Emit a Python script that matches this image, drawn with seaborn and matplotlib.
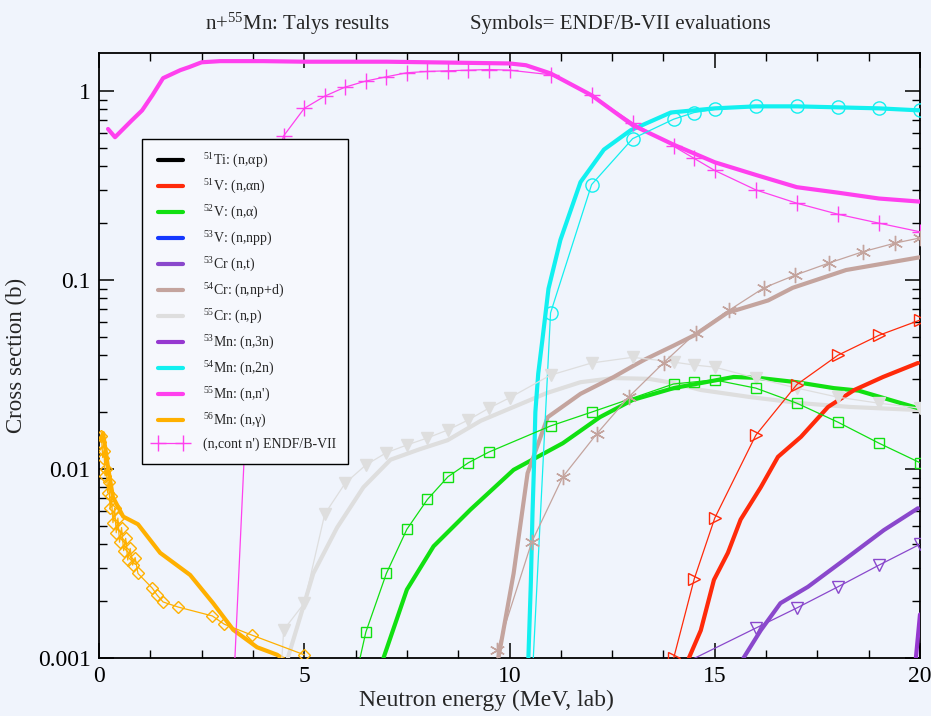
import numpy as np
import pandas as pd
import matplotlib
matplotlib.use("Agg")
import matplotlib.pyplot as plt
from matplotlib.lines import Line2D
from matplotlib.ticker import MultipleLocator, LogLocator, FixedLocator, FixedFormatter, NullFormatter
import seaborn as sns

# ---- TALYS results (thick curves) ----
mn55_nn_x = [0.22, 0.39, 0.8, 1.05, 1.3, 1.56, 1.98, 2.2, 2.5, 2.95, 4, 5, 6, 7, 8, 9, 10, 10.4,
             11, 12, 13, 14, 15, 16, 17, 18, 19, 20]
mn55_nn_y = [0.63, 0.57, 0.70, 0.79, 0.95, 1.17, 1.29, 1.34, 1.42, 1.44, 1.44, 1.43, 1.43, 1.43,
             1.42, 1.41, 1.40, 1.37, 1.24, 0.95, 0.66, 0.52, 0.42, 0.36, 0.31, 0.29, 0.27, 0.26]

mn54_2n_x = [10.46, 10.52, 10.56, 10.6, 10.63, 10.7, 10.8, 10.95, 11.24, 11.73, 12.3, 12.95,
             13.93, 15, 16, 17, 18, 19, 20]
mn54_2n_y = [0.001, 0.0025, 0.0058, 0.011, 0.02, 0.032, 0.048, 0.09, 0.163, 0.33, 0.49, 0.62,
             0.77, 0.81, 0.83, 0.83, 0.82, 0.81, 0.79]

cr55_np_x = [4.6, 5.22, 5.8, 6.44, 7.1, 7.8, 8.49, 9.3, 10.1, 10.9, 11.73, 12.54, 13.4, 14.0,
             14.66, 15.88, 17.1, 18.3, 20]
cr55_np_y = [0.001, 0.0028, 0.0049, 0.008, 0.0112, 0.0127, 0.0142, 0.018, 0.0213, 0.0252, 0.0288,
             0.0303, 0.030, 0.0285, 0.0262, 0.024, 0.0223, 0.0213, 0.0205]

v52_na_x = [6.93, 7.5, 8.15, 9.05, 10.1, 11.3, 12.2, 13.0, 14.0, 15.07, 15.46, 16.1, 17.0, 17.9,
            18.5, 19.1, 19.95]
v52_na_y = [0.001, 0.0023, 0.0039, 0.0061, 0.0099, 0.0137, 0.0188, 0.0232, 0.0268, 0.0296,
            0.0307, 0.0303, 0.0288, 0.0268, 0.026, 0.0238, 0.021]

cr54_npd_x = [9.73, 10.1, 10.44, 10.93, 11.73, 12.54, 13.0, 13.3, 14.0, 14.5, 15.3, 16.3, 16.9,
              18.2, 20]
cr54_npd_y = [0.001, 0.0028, 0.0095, 0.0188, 0.025, 0.0307, 0.035, 0.038, 0.045, 0.051, 0.067,
              0.078, 0.091, 0.113, 0.132]

v51_nan_x = [14.37, 14.66, 14.98, 15.32, 15.63, 16.12, 16.54, 17.1, 17.76, 18.4, 19.1, 19.95]
v51_nan_y = [0.001, 0.0014, 0.00259, 0.0036, 0.0054, 0.008, 0.0116, 0.0148, 0.0213, 0.0262,
             0.0307, 0.0364]

cr53_nt_x = [15.7, 16.12, 16.6, 17.27, 18.15, 19.12, 19.95]
cr53_nt_y = [0.001, 0.0014, 0.00195, 0.00238, 0.0033, 0.00475, 0.0062]

mn53_3n_x = [19.9, 20.0]
mn53_3n_y = [0.001, 0.0017]

mn56_ng_x = [0.05, 0.1, 0.22, 0.34, 0.59, 0.95, 1.49, 2.22, 2.78, 3.27, 3.85, 4.34, 4.6]
mn56_ng_y = [0.0145, 0.0155, 0.0102, 0.0071, 0.0056, 0.0051, 0.0036, 0.00275, 0.00195, 0.00141,
             0.00114, 0.00104, 0.00095]

# ---- ENDF/B-VII evaluations (thin lines with symbols) ----
endf_cont_x = [3.2, 3.8, 4.5, 5.0, 5.5, 6.0, 6.5, 7.0, 7.5, 8.0, 8.5, 9.0, 9.5, 10.0, 11.0, 12.0,
               13.0, 14.0, 14.5, 15.0, 16.0, 17.0, 18.0, 19.0, 20.0]
endf_cont_y = [0.0003, 0.2, 0.58, 0.81, 0.94, 1.05, 1.13, 1.19, 1.25, 1.27, 1.28, 1.29, 1.30,
               1.29, 1.22, 0.95, 0.68, 0.51, 0.44, 0.38, 0.30, 0.255, 0.223, 0.20, 0.18]

endf_2n_x = [10.5, 11, 12, 13, 14, 14.5, 15, 16, 17, 18, 19, 20]
endf_2n_y = [0.00045, 0.067, 0.32, 0.56, 0.71, 0.77, 0.80, 0.83, 0.83, 0.82, 0.81, 0.79]

endf_np_x = [4.3, 4.5, 5.0, 5.5, 6.0, 6.5, 7.0, 7.5, 8.0, 8.5, 9.0, 9.5, 10.0, 11.0, 12.0, 13.0,
             14.0, 14.5, 15.0, 16.0, 17.0, 18.0, 19.0, 20.0]
endf_np_y = [0.0003, 0.00141, 0.00195, 0.00578, 0.00843, 0.0105, 0.0122, 0.0134, 0.0146, 0.0161,
             0.0182, 0.0210, 0.0238, 0.0314, 0.0364, 0.039, 0.0368, 0.0355, 0.0346, 0.0303,
             0.0268, 0.0240, 0.0223, 0.0210]

endf_na_x = [6.2, 6.5, 7.0, 7.5, 8.0, 8.5, 9.0, 9.5, 11.0, 12.0, 14.0, 14.5, 15.0, 16.0, 17.0,
             18.0, 19.0, 20.0]
endf_na_y = [0.0007, 0.00137, 0.0028, 0.0048, 0.0069, 0.0091, 0.0108, 0.0123, 0.0169, 0.020,
             0.0282, 0.0289, 0.0296, 0.0268, 0.0223, 0.0177, 0.0137, 0.0108]

endf_npd_x = [9.7, 10.54, 11.3, 12.12, 12.9, 13.76, 14.54, 15.34, 16.2, 16.95, 17.78, 18.6,
              19.4, 20.0]
endf_npd_y = [0.0011, 0.0041, 0.0091, 0.0153, 0.024, 0.0366, 0.0525, 0.069, 0.091, 0.106, 0.123,
              0.141, 0.157, 0.167]

endf_nan_x = [14.0, 14.5, 15.0, 16.0, 17.0, 18.0, 19.0, 20.0]
endf_nan_y = [0.001, 0.00262, 0.0055, 0.0151, 0.028, 0.040, 0.051, 0.0614]

endf_nt_x = [14.0, 16.0, 17.0, 18.0, 19.0, 20.0]
endf_nt_y = [0.00088, 0.00144, 0.00184, 0.00238, 0.0031, 0.0040]

endf_ng_x = [0.03, 0.06, 0.09, 0.12, 0.15, 0.18, 0.21, 0.24, 0.27, 0.30, 0.34, 0.38, 0.42, 0.46,
             0.50, 0.55, 0.60, 0.65, 0.70, 0.76, 0.82, 0.88, 0.95, 1.3, 1.41, 1.56, 1.93, 2.76,
             3.05, 3.73, 5.0]
endf_ng_y = [0.0139, 0.0150, 0.0115, 0.0125, 0.0092, 0.0100, 0.0075, 0.0085, 0.0062, 0.0072,
             0.0052, 0.0062, 0.0046, 0.0055, 0.0041, 0.0049, 0.0037, 0.0043, 0.0033, 0.0038,
             0.0031, 0.0034, 0.0028, 0.00234, 0.00216, 0.00198, 0.00186, 0.00167, 0.00151,
             0.00132, 0.00104]

legend_labels = [r"$^{51}$Ti: (n,αp)", r"$^{51}$V: (n,αn)", r"$^{52}$V: (n,α)",
                 r"$^{53}$V: (n,npp)", r"$^{53}$Cr (n,t)", r"$^{54}$Cr: (n,np+d)",
                 r"$^{55}$Cr: (n,p)", r"$^{53}$Mn: (n,3n)", r"$^{54}$Mn: (n,2n)",
                 r"$^{55}$Mn: (n,n')", r"$^{56}$Mn: (n,γ)", "(n,cont n') ENDF/B-VII"]

x_ticks = [0, 5, 10, 15, 20]
y_ticks = [0.001, 0.01, 0.1, 1]
y_tick_labels = ["0.001", "0.01", "0.1", "1"]

# colours
C_BLACK = "#000000"
C_RED = "#ff2a0a"
C_GREEN = "#11e011"
C_BLUE = "#1438ff"
C_VIOLET = "#8a48cc"
C_BROWN = "#c4a49e"
C_LGRAY = "#dedede"
C_PURPLE = "#9638d0"
C_CYAN = "#12f0f0"
C_MAGENTA = "#ff40ee"
C_ORANGE = "#ffb000"
BG = "#f0f4fc"

sns.set_style("ticks")
plt.rcParams["font.family"] = ["Liberation Serif", "DejaVu Serif"]
plt.rcParams["mathtext.fontset"] = "custom"
plt.rcParams["mathtext.rm"] = "Liberation Serif"
plt.rcParams["mathtext.it"] = "Liberation Serif:italic"

fig = plt.figure(figsize=(9.31, 7.16), dpi=100, facecolor=BG)
ax = fig.add_axes([99 / 931, 58 / 716, 821 / 931, 605 / 716])
ax.set_facecolor(BG)


def curve(x, y, color, lw=3.0, z=3, **kw):
    df = pd.DataFrame({"E": x, "xs": y})
    sns.lineplot(data=df, x="E", y="xs", ax=ax, color=color, lw=lw, estimator=None,
                 sort=False, legend=False, zorder=z, **kw)


def symbols(x, y, color, marker, ms, filled=False, z=4):
    curve(x, y, color, lw=0.9, z=z, marker=marker, markersize=ms,
          markerfacecolor=color if filled else "none", markeredgecolor=color,
          markeredgewidth=1.0)


# ENDF evaluations
symbols(endf_cont_x, endf_cont_y, C_MAGENTA, "+", 11)
symbols(endf_2n_x, endf_2n_y, C_CYAN, "o", 9.5)
symbols(endf_np_x, endf_np_y, C_LGRAY, "v", 8.5, filled=True)
symbols(endf_na_x, endf_na_y, C_GREEN, "s", 7.5)
symbols(endf_npd_x, endf_npd_y, C_BROWN, (6, 2, 0), 11)
symbols(endf_nan_x, endf_nan_y, C_RED, ">", 8.5)
symbols(endf_nt_x, endf_nt_y, C_VIOLET, "v", 8.5)
symbols(endf_ng_x, endf_ng_y, C_ORANGE, "D", 6.5)

# TALYS results
curve(cr55_np_x, cr55_np_y, C_LGRAY)
curve(v52_na_x, v52_na_y, C_GREEN)
curve(cr54_npd_x, cr54_npd_y, C_BROWN)
curve(v51_nan_x, v51_nan_y, C_RED)
curve(cr53_nt_x, cr53_nt_y, C_VIOLET)
curve(mn53_3n_x, mn53_3n_y, C_PURPLE)
curve(mn54_2n_x, mn54_2n_y, C_CYAN)
curve(mn55_nn_x, mn55_nn_y, C_MAGENTA)
curve(mn56_ng_x, mn56_ng_y, C_ORANGE)

ax.set_yscale("log")
ax.set_xlim(0, 20)
ax.set_ylim(1e-3, 1.59)

ax.xaxis.set_major_locator(FixedLocator(x_ticks))
ax.xaxis.set_minor_locator(MultipleLocator(1.25))
ax.yaxis.set_major_locator(FixedLocator(y_ticks))
ax.yaxis.set_major_formatter(FixedFormatter(y_tick_labels))
ax.yaxis.set_minor_locator(LogLocator(base=10, subs=np.arange(2, 10)))
ax.yaxis.set_minor_formatter(NullFormatter())
ax.tick_params(which="both", direction="in", top=True, right=True, colors="black",
               labelsize=17, pad=6)
ax.tick_params(which="major", length=11, width=1.1)
ax.tick_params(which="minor", length=6, width=1.0)
for s in ax.spines.values():
    s.set_color("black")
    s.set_linewidth(1.3)

ax.set_xlabel("Neutron energy (MeV, lab)", fontsize=17, labelpad=2)
ax.xaxis.set_label_coords(0.472, -0.052)
ax.set_ylabel("Cross section (b)", fontsize=16.5)
ax.yaxis.set_label_coords(-0.088, 0.5)

fig.text(205 / 931, 1 - 24 / 716, r"n+$^{55}$Mn: Talys results", fontsize=15,
         ha="left", va="center")
fig.text(470 / 931, 1 - 24 / 716, "Symbols= ENDF/B-VII evaluations", fontsize=15,
         ha="left", va="center")

# legend
line_colors = [C_BLACK, C_RED, C_GREEN, C_BLUE, C_VIOLET, C_BROWN, C_LGRAY, C_PURPLE, C_CYAN,
               C_MAGENTA, C_ORANGE]
handles = [Line2D([], [], color=c, lw=3.0) for c in line_colors]
handles.append(Line2D([], [], color=C_MAGENTA, lw=0.9, marker="+", markersize=11,
                      markeredgewidth=1.0))
leg = ax.legend(handles, legend_labels, loc="upper left", bbox_to_anchor=(0.052, 0.858),
                borderaxespad=0, fontsize=10, labelspacing=0.56, handlelength=2.4,
                handletextpad=1.1, borderpad=0.9, numpoints=2, fancybox=False,
                framealpha=1, facecolor="#f6f8fd", edgecolor="black")
leg.get_frame().set_linewidth(1.0)
leg.set_zorder(10)

fig.savefig("out.png", dpi=100, facecolor=BG)
